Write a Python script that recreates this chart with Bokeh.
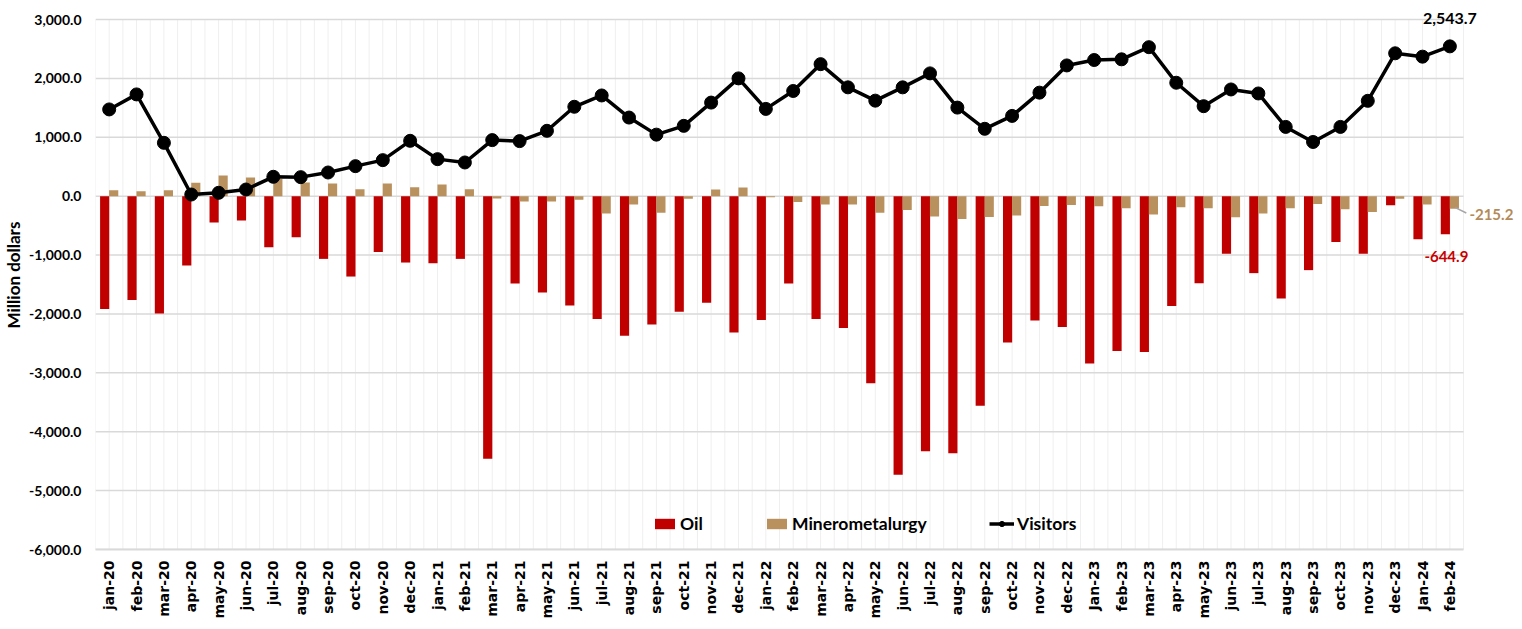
import math
from bokeh.plotting import figure
from bokeh.models import (ColumnDataSource, Range1d, FixedTicker, NumeralTickFormatter,
                          Legend, LegendItem, LabelSet)
from bokeh.core.properties import value
from bokeh.transform import dodge
from bokeh.embed import file_html
from bokeh.resources import INLINE

months = ["jan-20", "feb-20", "mar-20", "apr-20", "may-20", "jun-20", "jul-20", "aug-20",
          "sep-20", "oct-20", "nov-20", "dec-20",
          "jan-21", "feb-21", "mar-21", "apr-21", "may-21", "jun-21", "jul-21", "aug-21",
          "sep-21", "oct-21", "nov-21", "dec-21",
          "jan-22", "feb-22", "mar-22", "apr-22", "may-22", "jun-22", "jul-22", "aug-22",
          "sep-22", "oct-22", "nov-22", "dec-22",
          "Jan-23", "feb-23", "mar-23", "apr-23", "may-23", "jun-23", "jul-23", "aug-23",
          "sep-23", "oct-23", "nov-23", "dec-23",
          "Jan-24", "feb-24"]

oil = [-1915, -1762, -1994, -1178, -448, -414, -867, -697, -1065, -1365, -946, -1127,
       -1139, -1065, -4459, -1484, -1637, -1858, -2085, -2372, -2180, -1961, -1808, -2315,
       -2101, -1482, -2085, -2237, -3177, -4732, -4332, -4366, -3561, -2485, -2113, -2220,
       -2841, -2631, -2648, -1864, -1477, -977, -1307, -1739, -1256, -778, -977, -153,
       -733, -644.9]

minero = [102, 85, 102, 227, 351, 317, 290, 232, 215, 119, 215, 153,
          198, 119, -40, -90, -90, -62, -293, -141, -282, -45, 113, 146,
          -17, -101, -141, -141, -282, -237, -344, -389, -355, -327, -169, -152,
          -170, -205, -313, -188, -205, -358, -295, -205, -131, -222, -267, -45,
          -142, -215.2]

visitors = [1473, 1728, 906, 28, 57, 113, 329, 323, 402, 510, 612, 940,
            629, 572, 952, 935, 1110, 1518, 1710, 1335, 1045, 1194, 1589, 2000,
            1482, 1786, 2242, 1848, 1622, 1848, 2085, 1504, 1144, 1363, 1758, 2220,
            2312, 2324, 2530, 1926, 1528, 1812, 1744, 1176, 920, 1176, 1619, 2426,
            2369, 2543.7]

y_ticks = [3000, 2000, 1000, 0, -1000, -2000, -3000, -4000, -5000, -6000]

OIL_C = "#C00000"
MIN_C = "#B8915F"
FONT = "Lato"

W, H = 1514, 621
FRAME_L, FRAME_B = 93.5, 549          # frame left / bottom within the figure (px)
PX_PER_CAT = 27.39
PX_PER_UNIT = 530.0 / 9000.0

n = len(months)
xs = list(range(n))
src = ColumnDataSource(dict(x=xs, month=months, oil=oil, minero=minero, visitors=visitors))

ymin, ymax = min(y_ticks), max(y_ticks)
x_end = -0.5 + (W - FRAME_L) / PX_PER_CAT
y_end = ymin + FRAME_B / PX_PER_UNIT

p = figure(width=W, height=H, output_backend="svg", toolbar_location=None,
           x_range=Range1d(-0.5, x_end), y_range=Range1d(ymin, y_end),
           min_border_left=int(round(FRAME_L)), min_border_right=0, min_border_top=0,
           min_border_bottom=H - FRAME_B)
p.outline_line_color = None
p.background_fill_color = "white"
p.xgrid.grid_line_color = None
p.ygrid.grid_line_color = None

# custom grid lines limited to the data area
vx = [i * 0.5 - 0.5 for i in range(2 * n + 1)]
vgrid = ColumnDataSource(dict(x0=vx, x1=vx, y0=[ymin] * len(vx), y1=[ymax] * len(vx)))
p.segment(x0="x0", y0="y0", x1="x1", y1="y1", source=vgrid, line_color="#EFEFEF", line_width=1)
hgrid = ColumnDataSource(dict(x0=[-0.5] * len(y_ticks), x1=[n - 0.5] * len(y_ticks),
                              y0=y_ticks, y1=y_ticks))
p.segment(x0="x0", y0="y0", x1="x1", y1="y1", source=hgrid, line_color="#D9D9D9", line_width=1.5)

# bars
oil_r = p.vbar(x=dodge("x", -0.165, range=p.x_range), top="oil", bottom=0, width=0.335,
               source=src, fill_color=OIL_C, line_color=None)
min_r = p.vbar(x=dodge("x", 0.165, range=p.x_range), top="minero", bottom=0, width=0.335,
               source=src, fill_color=MIN_C, line_color=None)
# line
vis_l = p.line(x="x", y="visitors", source=src, line_color="black", line_width=3.5)
vis_s = p.scatter(x="x", y="visitors", source=src, size=13, marker="circle",
                  fill_color="black", line_color="black")

# axes
p.xaxis.bounds = (-0.5, n - 0.5)
p.xaxis.ticker = FixedTicker(ticks=xs)
p.xaxis.major_label_overrides = {i: m for i, m in zip(xs, months)}
p.xaxis.major_label_orientation = math.pi / 2
p.xaxis.major_label_text_font = "DejaVu Sans"
p.xaxis.major_label_text_font_style = "bold"
p.xaxis.major_label_text_font_size = "14px"
p.xaxis.major_label_text_color = "black"
p.xaxis.major_label_standoff = 11
p.xaxis.major_tick_line_color = None
p.xaxis.minor_tick_line_color = None
p.xaxis.major_tick_out = 0
p.xaxis.minor_tick_out = 0
p.xaxis.major_tick_in = 0
p.xaxis.axis_line_color = "#D9D9D9"
p.xaxis.axis_line_width = 2

p.yaxis.bounds = (ymin, ymax)
p.yaxis.ticker = FixedTicker(ticks=y_ticks)
p.yaxis.formatter = NumeralTickFormatter(format="0,0.0")
p.yaxis.major_label_text_font = FONT
p.yaxis.major_label_text_font_style = "bold"
p.yaxis.major_label_text_font_size = "14px"
p.yaxis.major_label_text_color = "black"
p.yaxis.major_label_standoff = 14
p.yaxis.major_tick_line_color = None
p.yaxis.minor_tick_line_color = None
p.yaxis.major_tick_out = 0
p.yaxis.minor_tick_out = 0
p.yaxis.major_tick_in = 0
p.yaxis.axis_line_color = None
p.yaxis.axis_label = "Million dollars"
p.yaxis.axis_label_text_font = FONT
p.yaxis.axis_label_text_font_style = "bold"
p.yaxis.axis_label_text_font_size = "17px"
p.yaxis.axis_label_text_color = "black"
p.yaxis.axis_label_standoff = 2

# leader line for last minero label
last = n - 1
lead_src = ColumnDataSource(dict(x0=[xs[last] + 0.2], y0=[minero[last] + 20],
                                 x1=[xs[last] + 0.6], y1=[minero[last] - 70]))
p.segment(x0="x0", y0="y0", x1="x1", y1="y1", source=lead_src,
          line_color="#A6A6A6", line_width=1.5)

# data labels
vis_lab = ColumnDataSource(dict(x=[xs[last]], y=[visitors[last]], t=[f"{visitors[last]:,.1f}"]))
oil_lab = ColumnDataSource(dict(x=[xs[last] - 0.165], y=[oil[last]], t=[f"{oil[last]:,.1f}"]))
min_lab = ColumnDataSource(dict(x=[xs[last] + 0.165], y=[minero[last]], t=[f"{minero[last]:,.1f}"]))

lab_kw = dict(text_font=value(FONT), text_font_style="bold", text_baseline="alphabetic")
p.add_layout(LabelSet(x="x", y="y", text="t", source=vis_lab, text_align="center",
                      y_offset=22, text_color="black", text_font_size="16px", **lab_kw))
p.add_layout(LabelSet(x="x", y="y", text="t", source=oil_lab, text_align="center",
                      x_offset=1, y_offset=-28, text_color="#C80000", text_font_size="15px",
                      **lab_kw))
p.add_layout(LabelSet(x="x", y="y", text="t", source=min_lab, text_align="left",
                      x_offset=15, y_offset=-11, text_color="#B38B5A", text_font_size="15px",
                      **lab_kw))

# legends
def make_legend(label, renderers, loc):
    lg = Legend(items=[LegendItem(label=label, renderers=renderers)], location=loc,
                orientation="horizontal", border_line_color=None, background_fill_alpha=0,
                padding=0, margin=0, glyph_width=25, glyph_height=13, label_standoff=3,
                label_text_font=FONT, label_text_font_style="bold",
                label_text_font_size="17.5px", label_text_color="black", label_height=20)
    p.add_layout(lg, "center")

make_legend("Oil", [oil_r], (557, 15))
make_legend("Minerometalurgy", [min_r], (669, 15))
make_legend("Visitors", [vis_l, vis_s], (894, 15))

open("out.html", "w").write(file_html(p, INLINE))
